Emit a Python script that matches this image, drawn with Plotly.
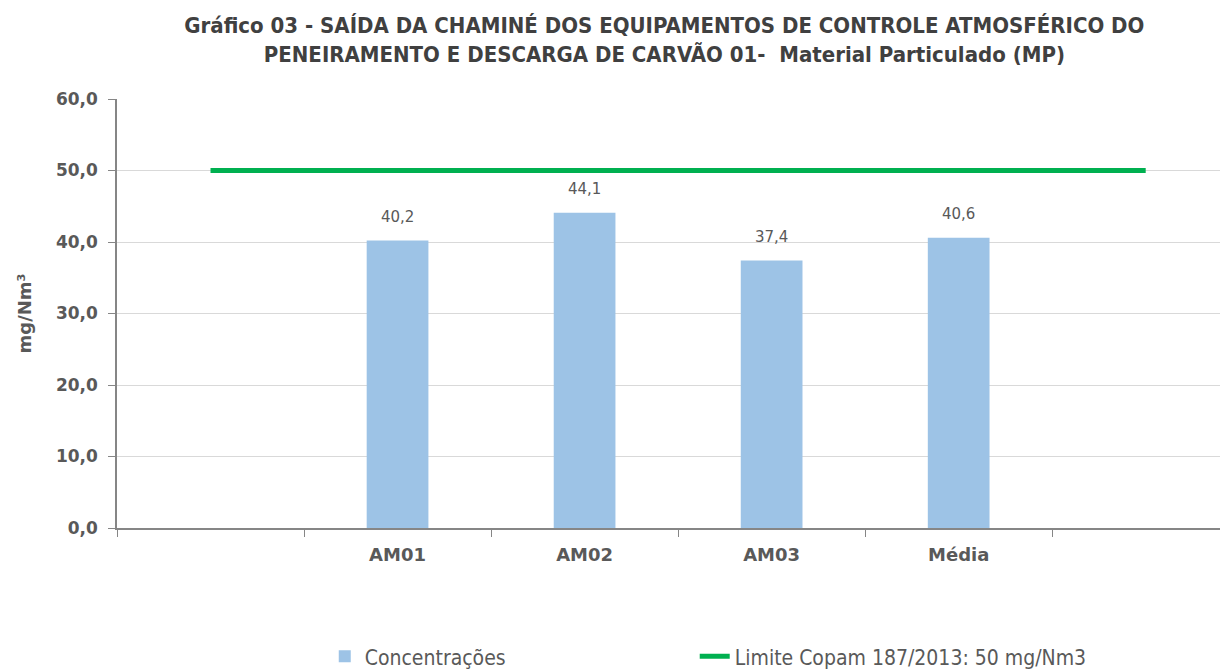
import plotly.graph_objects as go

categories = [" ", "AM01", "AM02", "AM03", "Média", "  "]
bar_categories = ["AM01", "AM02", "AM03", "Média"]
concentracoes = [40.2, 44.1, 37.4, 40.6]
limite = [50, 50, 50, 50, 50, 50]
y_ticks = [0, 10, 20, 30, 40, 50, 60]

title_text = ("Gráfico 03 - SAÍDA DA CHAMINÉ DOS EQUIPAMENTOS DE CONTROLE ATMOSFÉRICO DO<br>"
              "PENEIRAMENTO E DESCARGA DE CARVÃO 01-  Material Particulado (MP)")

grey = "#595959"
font_narrow = "Liberation Sans Narrow, Arial Narrow, DejaVu Sans Condensed, sans-serif"
font_axis = "DejaVu Sans, Verdana, sans-serif"

fig = go.Figure()
fig.add_trace(go.Bar(
    x=bar_categories, y=concentracoes, name="Concentrações",
    marker=dict(color="#9DC3E6", line=dict(width=0)),
    width=0.33, legend="legend",
))
fig.add_trace(go.Scatter(
    x=categories, y=limite, name="Limite Copam 187/2013: 50 mg/Nm3",
    mode="lines", line=dict(color="#00B050", width=5), legend="legend2",
))

for c, v in zip(bar_categories, concentracoes):
    fig.add_annotation(
        x=c, y=v, xref="x", yref="y", text=f"{v:.1f}".replace(".", ","),
        showarrow=False, yanchor="bottom", yshift=13,
        font=dict(family=font_axis, size=15, color=grey),
    )

legend_common = dict(orientation="h", xanchor="left", y=-0.30, yanchor="middle",
                     font=dict(family=font_narrow, size=21, color=grey),
                     bgcolor="rgba(0,0,0,0)")

# the page body has an 8px margin, so the figure is 8px smaller and margins shifted
fig.update_layout(
    width=1220, height=661,
    separators=",.",
    plot_bgcolor="white", paper_bgcolor="white",
    margin=dict(l=109, r=0, t=91, b=141, autoexpand=False),
    title=dict(text=title_text, x=0.538, xanchor="center", y=0.962, yanchor="top",
               font=dict(family=font_narrow, size=22, color="#404040", weight="bold")),
    showlegend=True,
    legend=dict(x=0.187, **legend_common),
    legend2=dict(x=0.520, **legend_common),
)
fig.update_xaxes(
    type="category", categoryorder="array", categoryarray=categories,
    range=[-0.5, 5.44], tickson="boundaries", ticks="outside", ticklen=7,
    tickcolor="#868686", showline=True, linecolor="#868686", linewidth=1.5,
    showgrid=False, automargin=False, ticklabelstandoff=10,
    tickfont=dict(family=font_axis, size=18, color=grey, weight="bold"),
)
fig.update_yaxes(
    range=[0, 60], tickvals=y_ticks, tickformat=".1f",
    ticks="outside", ticklen=7, tickcolor="#868686",
    showline=True, linecolor="#868686", linewidth=1.5,
    showgrid=True, gridcolor="#D9D9D9", gridwidth=1, zeroline=False,
    automargin=False, ticklabelstandoff=7,
    tickfont=dict(family=font_axis, size=17, color=grey, weight="bold"),
    title=dict(text="mg/Nm³", standoff=20,
               font=dict(family=font_axis, size=18, color=grey, weight="bold")),
)

fig.write_html("out.html")
